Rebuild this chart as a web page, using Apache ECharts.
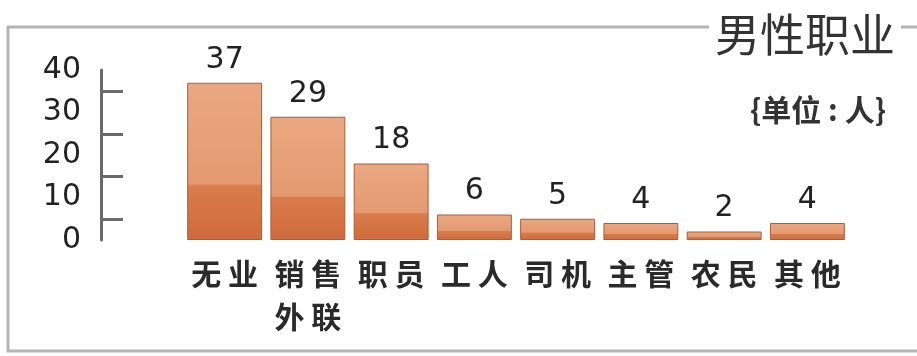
<!DOCTYPE html>
<html>
<head>
<meta charset="utf-8">
<script src="https://cdn.jsdelivr.net/npm/echarts@6/dist/echarts.min.js"></script>
<style>html,body{margin:0;padding:0;background:#fff}#c{width:917px;height:356px}</style>
</head>
<body>
<div id="c"></div>
<script>
var categories = ['无业', '销售\n外联', '职员', '工人', '司机', '主管', '农民', '其他'];
var values = [37, 29, 18, 6, 5, 4, 2, 4];
var yTicks = [0, 10, 20, 30, 40];
var titleText = '男性职业';
var unitText = '{单位:人}';

var chart = echarts.init(document.getElementById('c'));
var barColor = new echarts.graphic.LinearGradient(0, 0, 0, 1, [
  {offset: 0, color: '#eaa882'},
  {offset: 0.64, color: '#e49a70'},
  {offset: 0.66, color: '#d97b4c'},
  {offset: 1, color: '#d06b3b'}
]);
chart.setOption({
  backgroundColor: '#fff',
  animation: false,
  graphic: [{
    type: 'rect', z: 0,
    shape: {x: 8, y: 27, width: 1000, height: 324},
    style: {fill: 'none', stroke: '#b4b4b4', lineWidth: 3}
  }],
  title: [{
    text: titleText, right: 16, top: 12,
    backgroundColor: '#fff', padding: [0, 6],
    textStyle: {fontFamily: 'Noto Sans CJK SC', fontSize: 45, fontWeight: 'normal', color: '#333'}
  }, {
    text: unitText.replace(':', ' : '), right: 26, top: 90,
    textStyle: {fontFamily: 'Noto Sans CJK SC', fontSize: 30, fontWeight: 'bold', color: '#333'}
  }],
  grid: {left: 183, right: 68, top: 70, bottom: 116},
  xAxis: {
    type: 'category', data: categories,
    axisLine: {show: false}, axisTick: {show: false},
    axisLabel: {
      fontFamily: 'Noto Sans CJK SC', fontSize: 30, fontWeight: 'bold', color: '#2a2a2a',
      lineHeight: 43, margin: 12, interval: 0,
      formatter: function (v) { return v.split('\n').map(function (l) { return l.split('').join(' '); }).join('\n'); }
    }
  },
  yAxis: {
    type: 'value', min: 0, max: 40, interval: 10, offset: 82,
    axisLine: {show: true, lineStyle: {color: '#6a6a6a', width: 3}},
    axisTick: {show: false, inside: true},
    minorTick: {show: true, splitNumber: 2, length: 22, lineStyle: {color: '#6a6a6a', width: 3}},
    splitLine: {show: false},
    axisLabel: {
      fontFamily: 'DejaVu Sans', fontSize: 30, color: '#222', margin: 20,
      formatter: function (v) { return yTicks.indexOf(v) >= 0 ? String(v) : ''; }
    }
  },
  series: [{
    type: 'bar', data: values, barCategoryGap: '10%',
    itemStyle: {color: barColor, borderColor: '#a85e3c', borderWidth: 1},
    label: {show: true, position: 'top', distance: 8, fontFamily: 'DejaVu Sans', fontSize: 30, color: '#222'}
  }]
});
</script>
</body>
</html>
